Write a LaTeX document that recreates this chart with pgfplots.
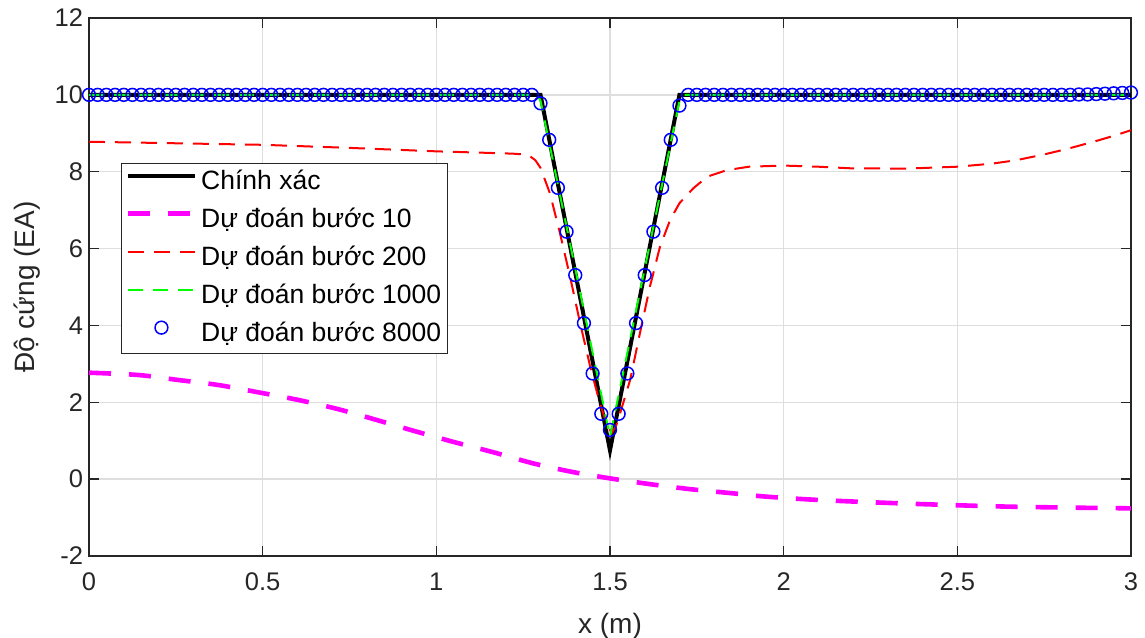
\documentclass[border=0pt]{standalone}
\usepackage{fontspec}
\setmainfont{Liberation Sans}
\usepackage{pgfplots}
\pgfplotsset{compat=1.18}
\definecolor{axgray}{HTML}{262626}
\definecolor{gridgray}{HTML}{DEDEDE}
\definecolor{mag}{RGB}{255,0,255}
\definecolor{grn}{RGB}{0,255,0}
\definecolor{rd}{RGB}{255,0,0}
\definecolor{bl}{RGB}{0,0,255}
\begin{document}
\begin{tikzpicture}
\useasboundingbox (-89pt,-81pt) rectangle (1056pt,556pt);
\begin{axis}[
 at={(0pt,0pt)}, anchor=south west,
 scale only axis, width=1042pt, height=538pt,
 xmin=0, xmax=3, ymin=-2, ymax=12,
 xtick={0,0.5,1,1.5,2,2.5,3}, ytick={-2,0,2,4,6,8,10,12},
 clip=false,
 grid=major, major grid style={gridgray, line width=1.3pt},
 axis line style={axgray, line width=1.4pt},
 major tick style={axgray, line width=1.4pt}, major tick length=10pt,
 tick label style={font=\fontsize{25.5}{30}\selectfont, text=axgray},
 /pgf/number format/assume math mode=true,
 yticklabel style={xshift=-2.5pt},
 xticklabel style={yshift=-13pt},
 xlabel={x (m)}, ylabel={Độ cứng (EA)},
 label style={font=\fontsize{28}{32}\selectfont, text=axgray},
 xlabel style={at={(axis description cs:0.5,-0.13)}, anchor=center},
 ylabel style={at={(axis description cs:-0.059,0.5)}, anchor=center},
 legend cell align=left,
 legend style={at={(axis description cs:0.0307,0.7305)}, anchor=north west,
   draw=axgray, line width=1.3pt, fill=white, font=\fontsize{26.5}{30}\selectfont,
   inner sep=4pt, row sep=8pt, column sep=2pt,
   nodes={inner sep=2pt, text height=20pt, text depth=6pt}},
 legend image code/.code={\draw[mark repeat=2,mark phase=2,#1] plot coordinates {(0pt,7pt) (33.5pt,7pt) (67pt,7pt)};},
]
% chinh xac
\addplot[black, line width=4pt, line join=miter] coordinates {(0,10) (1.3,10) (1.5,0.75) (1.7,10) (3,10)};
\addlegendentry{Chính xác}
% buoc 10
\addplot[mag, line width=4.6pt, dash pattern=on 22pt off 18pt, smooth] coordinates {
 (0,2.77) (0.142,2.71) (0.257,2.58) (0.372,2.45) (0.487,2.26) (0.603,2.06) (0.718,1.82)
 (0.828,1.54) (0.93,1.27) (1.049,0.97) (1.164,0.70) (1.279,0.41) (1.39,0.19) (1.5,0.02)
 (1.615,-0.13) (1.73,-0.26) (1.855,-0.37) (1.942,-0.45) (2.076,-0.53) (2.22,-0.59)
 (2.431,-0.66) (2.671,-0.72) (3.0,-0.76)};
\addlegendentry{Dự đoán bước 10}
% buoc 200
\addplot[rd, line width=2pt, dash pattern=on 16pt off 10pt] coordinates {
 (0,8.78) (0.25,8.74) (0.5,8.70) (0.75,8.62) (1.0,8.53) (1.15,8.49) (1.22,8.47) (1.25,8.45)
 (1.27,8.40) (1.285,8.30) (1.30,8.10) (1.327,7.44) (1.356,6.40) (1.385,5.27) (1.414,4.06)
 (1.443,2.93) (1.471,1.97) (1.49,1.45) (1.505,1.2) (1.518,1.4) (1.529,1.71) (1.558,2.58)
 (1.586,3.79) (1.615,5.01) (1.644,6.05) (1.673,6.74) (1.70,7.18) (1.74,7.57) (1.78,7.87)
 (1.836,8.04) (1.90,8.13) (2.0,8.16) (2.1,8.13) (2.19,8.09) (2.35,8.08) (2.5,8.13)
 (2.6,8.21) (2.67,8.30) (2.75,8.45) (2.815,8.59) (2.9,8.80) (2.96,8.96) (3.0,9.08)};
\addlegendentry{Dự đoán bước 200}
% buoc 1000
\addplot[grn, line width=2pt, dash pattern=on 15pt off 10pt] coordinates {
 (0,10) (1.29,10) (1.3,9.85) (1.5,1.1) (1.7,9.85) (1.71,10) (3,10)};
\addlegendentry{Dự đoán bước 1000}
% buoc 8000
\addplot[bl, only marks, mark=o, mark size=6.4pt, mark options={line width=1.5pt}] coordinates {
 (0,10) (0.025,10) (0.05,10) (0.075,10) (0.1,10) (0.125,10) (0.15,10) (0.175,10) (0.2,10) (0.225,10)
 (0.25,10) (0.275,10) (0.3,10) (0.325,10) (0.35,10) (0.375,10) (0.4,10) (0.425,10) (0.45,10) (0.475,10)
 (0.5,10) (0.525,10) (0.55,10) (0.575,10) (0.6,10) (0.625,10) (0.65,10) (0.675,10) (0.7,10) (0.725,10)
 (0.75,10) (0.775,10) (0.8,10) (0.825,10) (0.85,10) (0.875,10) (0.9,10) (0.925,10) (0.95,10) (0.975,10)
 (1,10) (1.025,10) (1.05,10) (1.075,10) (1.1,10) (1.125,10) (1.15,10) (1.175,10) (1.2,10) (1.225,10)
 (1.25,10) (1.275,10) (1.3,9.78) (1.325,8.83) (1.35,7.58) (1.375,6.44) (1.4,5.31) (1.425,4.06) (1.45,2.75) (1.475,1.70)
 (1.5,1.28) (1.525,1.70) (1.55,2.75) (1.575,4.06) (1.6,5.31) (1.625,6.44) (1.65,7.58) (1.675,8.83) (1.7,9.72) (1.725,10)
 (1.75,10) (1.775,10) (1.8,10) (1.825,10) (1.85,10) (1.875,10) (1.9,10) (1.925,10) (1.95,10) (1.975,10)
 (2,10) (2.025,10) (2.05,10) (2.075,10) (2.1,10) (2.125,10) (2.15,10) (2.175,10) (2.2,10) (2.225,10)
 (2.25,10) (2.275,10) (2.3,10) (2.325,10) (2.35,10) (2.375,10) (2.4,10) (2.425,10) (2.45,10) (2.475,10)
 (2.5,10) (2.525,10) (2.55,10) (2.575,10) (2.6,10) (2.625,10) (2.65,10) (2.675,10) (2.7,10) (2.725,10)
 (2.75,10) (2.775,10) (2.8,10) (2.825,10) (2.85,10.01) (2.875,10.01) (2.9,10.02) (2.925,10.03) (2.95,10.04) (2.975,10.05)
 (3,10.06)};
\addlegendentry{Dự đoán bước 8000}
\end{axis}
\end{tikzpicture}
\end{document}
